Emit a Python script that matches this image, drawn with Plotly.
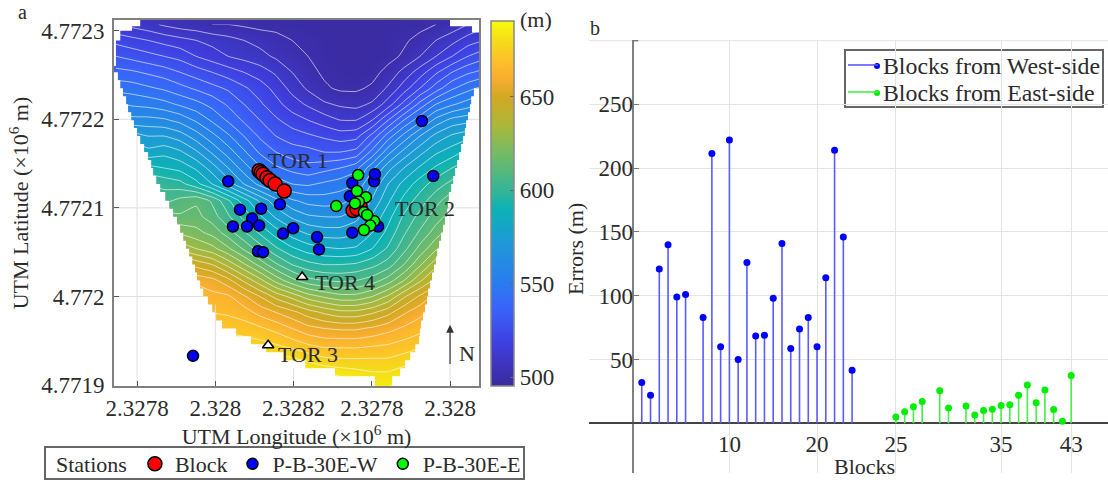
import plotly.graph_objects as go

n = None
SERIF = "Liberation Serif"
INK = "#2b2b2b"

# ---- panel a: terrain (metres east of 2327800, metres north of 4771900) ----
east_m = [-54, -13, 28, 69, 110, 151, 192, 233, 273, 314, 355, 396, 437, 478, 519, 560, 601, 642, 682, 723, 764, 805, 846, 887]
north_m = [407, 389, 371, 353, 335, 317, 299, 281, 263, 245, 227, 208, 190, 172, 154, 136, 118, 100, 82, 64, 46, 28, 10, -8]
elev_m = [
 [512,510,508,505,503,502,500,500,499,498,498,498,497,497,497,497,497,497,498,498,500,502,506,510],
 [522,520,518,516,514,512,510,508,506,504,502,500,499,498,497,497,497,498,499,502,506,510,515,518],
 [530,528,526,524,522,518,515,512,510,508,505,502,500,498,497,497,497,498,501,506,512,518,524,528],
 [538,537,535,533,530,527,524,521,518,515,511,506,502,499,498,497,498,502,508,515,523,530,535,538],
 [546,545,543,541,538,535,532,529,525,521,516,510,505,501,499,499,501,507,515,524,533,541,546,550],
 [555,553,552,550,547,544,540,535,530,525,520,515,511,507,505,504,507,515,526,538,548,553,557,561],
 [565,562,562,561,558,553,547,541,535,530,525,521,518,515,512,512,518,530,542,552,562,568,570,574],
 [n,575,572,572,569,563,556,549,542,535,530,527,525,523,521,522,532,545,556,566,574,579,582,585],
 [n,584,580,582,579,573,565,557,549,541,536,533,532,530,530,532,544,558,568,576,583,587,592,n],
 [n,n,592,590,588,583,575,566,557,549,543,540,538,540,542,546,558,570,578,585,591,596,600,n],
 [n,n,602,600,598,592,584,575,566,558,552,548,547,549,551,554,567,578,586,593,599,604,608,n],
 [n,n,610,606,610,613,607,597,587,577,568,561,558,557,558,562,573,583,592,599,606,612,617,n],
 [n,n,n,617,615,616,611,603,594,585,577,571,567,566,566,570,579,588,597,604,611,617,622,n],
 [n,n,n,626,625,622,618,611,603,595,587,581,577,575,575,577,584,592,601,609,617,624,n,n],
 [n,n,n,n,636,632,628,621,613,605,597,591,587,585,584,585,590,597,606,616,625,632,n,n],
 [n,n,n,n,652,648,644,636,627,618,609,602,598,596,596,597,600,605,614,625,636,642,n,n],
 [n,n,n,n,664,660,658,652,643,634,624,616,610,608,607,608,611,617,626,637,646,652,n,n],
 [n,n,n,n,n,668,664,663,657,650,642,636,629,625,622,622,626,633,643,651,658,n,n,n],
 [n,n,n,n,n,670,668,667,665,660,656,652,647,643,640,640,643,648,655,660,666,n,n,n],
 [n,n,n,n,n,n,673,672,671,669,666,662,658,656,655,655,657,660,663,666,670,n,n,n],
 [n,n,n,n,n,n,n,678,677,676,674,671,668,666,666,666,667,668,670,672,675,n,n,n],
 [n,n,n,n,n,n,n,n,n,684,683,682,679,676,675,675,675,675,677,680,n,n,n,n],
 [n,n,n,n,n,n,n,n,n,n,n,n,689,688,686,684,682,682,685,685,n,n,n,n],
 [n,n,n,n,n,n,n,n,n,n,n,n,n,n,690,690,688,688,690,n,n,n,n,n],
]

left_edge_east = [8,8,-13,-13,-43,-43,-54,-54,-59,-59,-54,-49,-43,-36,-28,-23,-15,-8,0,8,18,28,36,41,49,59,72,82,92,102,110,118,125,133,141,148,153,161,169,181,192,202,217,253,291,330,378,430,506,608]
left_edge_north = [412,405,405,400,400,389,389,360,360,353,353,344,335,326,317,308,299,290,281,272,263,254,245,236,227,218,208,199,190,181,172,163,154,145,136,127,118,109,100,91,82,73,64,55,46,37,28,19,10,1]
right_edge_east = [800,800,856,856,874,869,861,854,851,846,841,838,833,828,823,818,813,808,803,797,795,792,787,782,777,772,767,764,759,754,749,744,741,736,731,726,723,721,711,698,685,672,652]
right_edge_north = [412,405,405,398,335,335,326,317,308,299,290,281,272,263,254,245,236,227,218,208,199,190,181,172,163,154,145,136,127,118,109,100,91,82,73,64,55,46,37,28,19,10,1]

west_east = [233,263,317,294,245,281,312,365,399,373,460,465,309,322,550,606,608,544,550,616,728,757,143]
west_north = [230,198,199,188,179,179,180,204,177,171,167,153,151,150,228,230,238,213,172,179,298,236,33]
east_east = [565,562,585,509,567,580,606,596,580,557,588]
east_north = [237,219,212,202,207,195,185,180,175,205,192]
block_east = [312,317,322,332,340,353,376,570,552,562]
block_north = [242,240,238,234,231,227,219,202,197,199]
tor_east = [422,335]
tor_north = [122,45]

lon_ticks = [0, 200, 400, 600, 800]
lon_labels = ["2.3278", "2.328", "2.3282", "2.3278", "2.328"]
lat_ticks = [0, 100, 200, 300, 400]
lat_labels = ["4.7719", "4.772", "4.7721", "4.7722", "4.7723"]
# grid segments that show in the white part of panel a
grid_east = [0,0,None,200,200,None,400,400,None,800,800,None,-59,-15,None,846,874,None,-59,80,None,795,874,None,-59,169,None,744,874]
grid_north = [281,-1,None,91,-1,None,19,-1,None,208,-1,None,300,300,None,300,300,None,200,200,None,200,200,None,100,100,None,100,100]

# ---- panel b: errors ----
west_pos = [1,2,3,4,5,6,8,9,10,11,12,13,14,15,16,17,18,19,20,21,22,23,24,25]
west_err = [32,22,121,140,99,101,83,211.5,60,222,50,126,68.5,69,98,141,58.6,74,83,60,114,214,146,41.5]
east_pos = [30,31,32,33,35,36,38,39,40,41,42,43,44,45,46,47,48,49,50]
east_err = [5,9,13,17,25.5,12,13.5,6.5,10,11,14,14.5,22,30,16,26,10.7,1.5,37.5]
block_ticks = [11,21,30,42,50]
block_labels = ["10","20","25","35","43"]
err_ticks = [50,100,150,200,250]
err_labels = ["50","100","150","200","250"]
err_top = 300

colors = [
 [0.0,"#3b2a9e"],[0.117,"#3f3fe0"],[0.209,"#3a62fa"],[0.28,"#2a7bf0"],[0.388,"#1f98d8"],
 [0.485,"#0cb2b5"],[0.536,"#35b597"],[0.643,"#78bb62"],[0.71,"#a8b83c"],[0.79,"#d2a822"],
 [0.847,"#fbae30"],[0.90,"#fcc428"],[0.945,"#f5dc18"],[1.0,"#f8fa0d"],
]

W, H = 1108, 480
fig = go.Figure()
fig.add_trace(go.Heatmap(x=east_m, y=north_m, z=elev_m, zmin=495.2, zmax=690.7, colorscale=colors,
    zsmooth="best", showlegend=False, hoverongaps=False,
    colorbar=dict(x=491/W, xanchor="left", xpad=0, ypad=0, thickness=23, thicknessmode="pixels",
                  y=(H-386)/H, yanchor="bottom", len=365/H, lenmode="fraction",
                  tickvals=[500,550,600,650], ticks="inside", ticklen=4, tickcolor="#666",
                  outlinecolor="#888", outlinewidth=1.5,
                  tickfont=dict(family=SERIF, size=23, color=INK))))
fig.add_trace(go.Contour(x=east_m, y=north_m, z=elev_m, showscale=False, showlegend=False,
    autocontour=False, contours=dict(start=500, end=690, size=6, coloring="none"),
    line=dict(color="rgba(255,255,255,0.6)", width=1, smoothing=0.4)))

mask_x = left_edge_east + [608, -70, -70]
mask_y = left_edge_north + [-10, -10, 412]
fig.add_trace(go.Scatter(x=mask_x, y=mask_y, mode="lines", fill="toself", fillcolor="white",
    line=dict(width=0, shape="hv"), showlegend=False, hoverinfo="skip"))
mask_x2 = right_edge_east + [652, 890, 890]
mask_y2 = right_edge_north + [-10, -10, 412]
fig.add_trace(go.Scatter(x=mask_x2, y=mask_y2, mode="lines", fill="toself", fillcolor="white",
    line=dict(width=0, shape="hv"), showlegend=False, hoverinfo="skip"))
fig.add_trace(go.Scatter(x=grid_east, y=grid_north, mode="lines", line=dict(color="#dedede", width=1),
    showlegend=False, hoverinfo="skip"))

def stations(x, y, name, col, size, rank):
    return go.Scatter(x=x, y=y, mode="markers", name=name, legend="legend", legendrank=rank,
        marker=dict(color=col, size=size, line=dict(color="black", width=1.5)))

fig.add_trace(stations(west_east, west_north, "P-B-30E-W", "#0000ff", 11, 2))
fig.add_trace(stations(block_east, block_north, "Block", "#ff0000", 14, 1))
fig.add_trace(stations(east_east, east_north, "P-B-30E-E", "#00ff00", 11, 3))
fig.add_trace(go.Scatter(x=tor_east, y=tor_north, mode="markers", showlegend=False,
    marker=dict(symbol="triangle-up", color="white", size=10, line=dict(color="black", width=1.5))))

def stems(pos, val):
    xs, ys = [], []
    for p, v in zip(pos, val):
        xs += [p, p, None]
        ys += [0, v, None]
    return xs, ys

for pos, val, name, col, stem, leg in [
    (west_pos, west_err, "Blocks from West-side", "#0000ff", "#5a5aff", "legend2"),
    (east_pos, east_err, "Blocks from East-side", "#00ee00", "#45f045", "legend3")]:
    xs, ys = stems(pos, val)
    fig.add_trace(go.Scatter(x=xs, y=ys, mode="lines", name=name, xaxis="x2", yaxis="y2",
        legend=leg, line=dict(color=stem, width=1.6)))
    fig.add_trace(go.Scatter(x=pos, y=val, mode="markers", xaxis="x2", yaxis="y2", showlegend=False,
        marker=dict(color=col, size=7)))

ann = []
def label(txt, x, y, size=22):
    ann.append(dict(text=txt, x=x, y=y, xref="x", yref="y", showarrow=False,
                    font=dict(family=SERIF, size=size, color=INK)))
label("TOR 1", 411, 254); label("TOR 2", 736, 199); label("TOR 4", 532, 116); label("TOR 3", 437, 35)
label("N", 843, 36)
ann.append(dict(x=800, y=68, ax=800, ay=22, xref="x", yref="y", axref="x", ayref="y", text="",
                showarrow=True, arrowhead=2, arrowsize=1.3, arrowwidth=1.2, arrowcolor="#333"))
def plabel(txt, px, py, size=20, angle=0):
    ann.append(dict(text=txt, x=px/W, y=1-py/H, xref="paper", yref="paper", showarrow=False,
                    xanchor="center", yanchor="middle", textangle=angle,
                    font=dict(family=SERIF, size=size, color=INK)))
plabel("a", 22, 12); plabel("b", 595, 28); plabel("(m)", 536, 20, 22); plabel("Blocks", 864, 466, 22)
plabel("Errors (m)", 575, 249, 22, -90)

def dot(cx, cy, col):
    return dict(type="circle", xref="paper", yref="paper", x0=(cx-3)/W, x1=(cx+3)/W,
                y0=1-(cy+3)/H, y1=1-(cy-3)/H, fillcolor=col, line=dict(width=0))

fig.update_layout(
    width=W, height=H, margin=dict(l=0, r=0, t=0, b=0, autoexpand=False), paper_bgcolor="white", plot_bgcolor="white",
    font=dict(family=SERIF, color=INK), annotations=ann,
    shapes=[dict(type="line", xref="x2", yref="y2", x0=-5.02, x1=54.2, y0=err_top, y1=err_top,
                 line=dict(color="#e4e4e4", width=1), layer="below"),
            dict(type="line", xref="x2", yref="y2", x0=0, x1=0.6, y0=err_top, y1=err_top,
                 line=dict(color="#777", width=1.5)),
            dict(type="rect", xref="paper", yref="paper", x0=45/W, x1=524/W, y0=1-447/H, y1=1-479/H,
                 line=dict(color="#666", width=2)),
            dict(type="rect", xref="paper", yref="paper", x0=845/W, x1=1103/W, y0=1-50/H, y1=1-107/H,
                 fillcolor="white", layer="below", line=dict(color="#666", width=2)),
            dot(877, 66, "#0000ff"), dot(877, 93, "#00ee00")],
    xaxis=dict(domain=[114/W, 479/W], range=[-59, 874], tickvals=lon_ticks, ticktext=lon_labels,
        ticks="inside", ticklen=5, tickcolor="#555", showline=True, mirror=True, linecolor="#808080",
        linewidth=2, showgrid=True, gridcolor="#dedede", zeroline=False, layer="above traces",
        tickfont=dict(size=23), anchor="y",
        title=dict(text="UTM Longitude (×10<sup>6</sup> m)", font=dict(size=22), standoff=6)),
    yaxis=dict(domain=[1-386/H, 1-20/H], range=[-1, 412], tickvals=lat_ticks, ticktext=lat_labels,
        ticks="inside", ticklen=5, tickcolor="#555", showline=True, mirror=True, linecolor="#808080",
        linewidth=2, showgrid=True, gridcolor="#dedede", zeroline=False, layer="above traces",
        tickfont=dict(size=23), anchor="x", ticklabelstandoff=3,
        title=dict(text="UTM Latitude (×10<sup>6</sup> m)", font=dict(size=22), standoff=6)),
    xaxis2=dict(domain=[589/W, 1.0], range=[-5.02, 54.2], tickvals=block_ticks, ticktext=block_labels,
        anchor="free", position=1-423/H, showgrid=True, gridcolor="#e4e4e4", zeroline=True,
        zerolinecolor="#808080", zerolinewidth=2, ticks="", showline=False, ticklabelstandoff=5,
        tickfont=dict(size=23)),
    yaxis2=dict(domain=[1-473/H, 1-40/H], range=[-39, 300.5], tickvals=err_ticks, ticktext=err_labels,
        anchor="free", position=633/W, showgrid=True, gridcolor="#e4e4e4", zeroline=True,
        zerolinecolor="#444", zerolinewidth=2, ticks="inside", ticklen=5, tickcolor="#777", showline=False,
        tickfont=dict(size=23)),
    legend=dict(orientation="h", x=54/W, y=1-443/H, xanchor="left", yanchor="top",
        title=dict(text="Stations", side="left", font=dict(size=22)), font=dict(size=22),
        borderwidth=0, bgcolor="rgba(255,255,255,0)", traceorder="normal"),
    legend2=dict(x=843/W, y=1-(66-23)/H, xanchor="left", yanchor="top", font=dict(size=23.8),
        borderwidth=0, bgcolor="rgba(255,255,255,0)"),
    legend3=dict(x=843/W, y=1-(93-23)/H, xanchor="left", yanchor="top", font=dict(size=23.8),
        borderwidth=0, bgcolor="rgba(255,255,255,0)"),
)
fig.write_html("out.html", post_script="document.body.style.margin='0';", config={"displayModeBar": False})
